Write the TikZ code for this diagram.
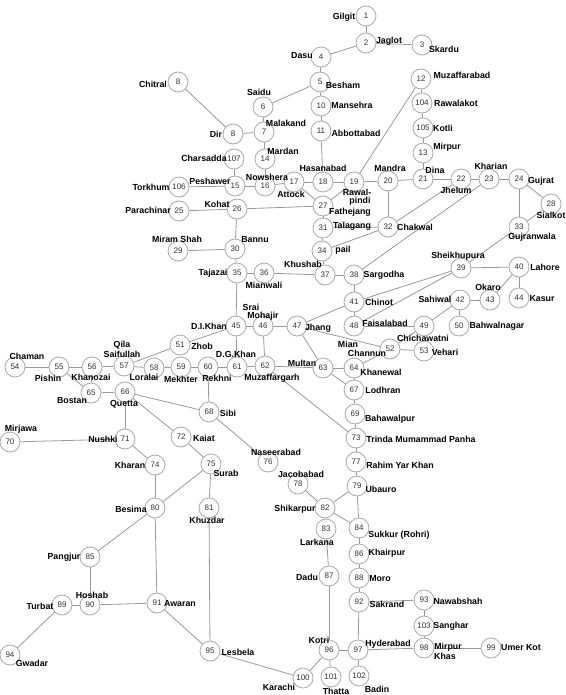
\documentclass[tikz,border=0pt]{standalone}
\usepackage{fontspec}
\setmainfont{Liberation Sans}
\definecolor{edgegrey}{HTML}{999999}
\definecolor{ringgrey}{HTML}{AAAAAA}
\definecolor{numgrey}{HTML}{333333}
\tikzset{
  city/.style={circle,draw=ringgrey,fill=white,line width=0.8pt,minimum size=20pt,inner sep=0pt,text=numgrey,font=\fontsize{8}{9}\selectfont},
  lab/.style={inner sep=0pt,align=center,text=black,font=\fontsize{8.8}{9}\selectfont\bfseries},
  link/.style={draw=edgegrey,line width=0.8pt}
}
\begin{document}
\begin{tikzpicture}[x=1pt,y=-1pt]
\useasboundingbox (0,0) rectangle (565,695);
\foreach \n/\t/\x/\y in {
1/1/366/16,2/2/366/43,3/3/422/45,4/4/321/57,5/5/320/82,8/8/178/82,6/6/263/107,10/10/321/106,11/11/321/131,
12/12/421/79,104/104/422/103,105/105/423/128,13/13/423/153,8b/8/233/134,7/7/264/132,14/14/265/159,107/107/234/159,
106/106/179/187,15/15/235/186,16/16/265/186,17/17/294/182,18/18/323/182,19/19/354/182,20/20/388/181,21/21/423/179,
22/22/461/179,23/23/489/179,24/24/519/179,28/28/551/204,33/33/519/227,25/25/179/211,26/26/237/209,27/27/323/206,
31/31/323/228,32/32/388/227,29/29/178/251,30/30/235/249,34/34/322/251,35/35/237/273,36/36/264/273,37/37/325/275,
38/38/354/275,39/39/461/268,40/40/519/267,41/41/354/302,42/42/460/300,43/43/490/300,44/44/519/298,45/45/236/326,
46/46/263/326,47/47/297/326,48/48/354/326,49/49/424/326,50/50/459/326,51/51/180/345,52/52/390/349,53/53/424/351,
54/54/15/367,55/55/59/367,56/56/92/367,57/57/124/366,58/58/154/368,59/59/181/367,60/60/208/367,61/61/237/367,
62/62/265/366,63/63/323/368,64/64/354/368,65/65/91/393,66/66/125/392,67/67/354/390,68/68/209/412,69/69/355/414,
70/70/10/442,71/71/125/439,72/72/181/437,73/73/356/438,74/74/155/465,75/75/211/464,76/76/268/462,77/77/356/462,
78/78/298/484,79/79/357/486,80/80/155/508,81/81/209/508,82/82/325/508,83/83/326/529,84/84/359/528,85/85/90/557,
86/86/359/554,87/87/329/576,88/88/359/578,89/89/62/605,90/90/90/605,91/91/157/603,92/92/359/602,93/93/424/600,
94/94/10/655,95/95/210/651,96/96/329/650,97/97/358/650,98/98/424/648,99/99/491/648,100/100/303/678,101/101/331/677,
102/102/359/676,103/103/424/626}
  \node[city] (n\n) at (\x,\y) {\t};
\foreach \a/\b in {
1/2,2/3,2/4,4/5,5/6,5/10,10/11,11/18,6/7,8/8b,8b/7,7/14,14/16,107/15,106/15,15/16,16/17,17/18,18/19,19/20,20/21,21/22,
22/23,23/24,24/28,28/33,24/33,17/27,27/19,19/12,12/104,104/105,105/13,13/21,25/26,26/27,26/30,27/31,31/34,34/37,31/32,
32/20,32/22,34/32,29/30,30/35,35/36,36/37,37/38,38/23,38/41,33/39,39/40,39/41,39/48,41/48,41/47,47/46,46/45,45/35,
45/51,51/57,45/61,46/62,47/63,47/52,48/49,49/42,42/43,42/50,40/43,40/44,49/52,52/53,52/64,62/63,63/64,63/67,64/67,
67/69,69/73,62/73,61/62,60/61,59/60,58/59,57/58,56/57,55/56,54/55,55/65,56/65,65/66,66/71,66/72,66/68,60/68,68/76,
70/71,71/74,72/75,75/80,75/81,74/80,80/85,80/91,85/90,89/90,90/91,89/94,91/95,81/95,95/100,100/96,96/97,96/101,97/102,
97/98,92/97,92/93,93/103,103/98,98/99,87/96,83/87,82/83,78/82,79/82,82/84,79/84,84/86,86/88,88/92,73/77,77/79}
  \draw[link] (n\a) -- (n\b);
\foreach \x/\y/\t [count=\i] in {
344/17/Gilgit,389/41/Jaglot,444/49/Skardu,302/56/Dasu,343/85/Besham,462/75/Muzaffarabad,153/84/Chitral,259/92/Saidu,
352/105/Mansehra,456/103/Rawalakot,286/123/Malakand,216/134/Dir,356/133/Abbottabad,443/128/Kotli,447/147/Mirpur,
283/151/Mardan,204/158/Charsadda,323/168/Hasanabad,390/168/Mandra,435/170/Dina,491/166/Kharian,267/177/Nowshera,
210/181/Peshawer,151/187/Torkhum,541/181/Gujrat,456/190/Jhelum,291/194/Attock,357/192/Rawal-,360/201/pindi,
350/212/Fathejang,217/204/Kohat,148/210/Parachinar,551/215/Sialkot,352/226/Talagang,415/227/Chakwal,177/239/Miram Shah,
255/240/Bannu,532/237/Gujranwala,343/250/pail,458/256/Sheikhupura,303/264/Khushab,213/273/Tajazai,545/267/Lahore,
384/275/Sargodha,264/285/Mianwali,488/287/Okaro,435/299/Sahiwal,542/299/Kasur,379/302/Chinot,251/307/Srai,263/316/Mohajir,
385/323/Faisalabad,497/326/Bahwalnagar,209/326/D.I.Khan,318/328/Jhang,423/338/Chichawatni,348/344/Mian,367/353/Channun,
202/346/Zhob,445/352/Vehari,236/354/D.G.Khan,302/363/Multan,381/372/Khanewal,181/379/Mekhter,217/378/Rekhni,
272/378/Muzaffargarh,383/390/Lodhran,228/413/Sibi,390/419/Bahawalpur,122/345/Qila,122/354/Saifullah,27/356/Chaman,
48/378/Pishin,91/377/Khanozai,144/377/Loralai,72/401/Bostan,124/404/Quetta,21/429/Mirjawa,103/439/Nushki,204/438/Kaiat,
130/465/Kharan,276/452/Naseerabad,226/473/Surab,131/509/Besima,207/520/Khuzdar,64/557/Pangjur,92/595/Hoshab,40/606/Turbat,
180/604/Awaran,32/663/Gwadar,238/652/Lesbela,279/687/Karachi,421/439/Trinda Mumammad Panha,400/465/Rahim Yar Khan,
301/474/Jacobabad,381/489/Ubauro,295/509/Shikarpur,399/535/Sukkur (Rohri),317/542/Larkana,387/553/Khairpur,307/577/Dadu,
380/579/Moro,458/601/Nawabshah,387/604/Sakrand,451/626/Sanghar,319/640/Kotri,388/644/Hyderabad,448/647/Mirpur,445/656/Khas,
521/648/Umer Kot,336/691/Thatta,377/689/Badin}
  \node[lab] (lab\i) at (\x,\y) {\t};
\end{tikzpicture}
\end{document}
